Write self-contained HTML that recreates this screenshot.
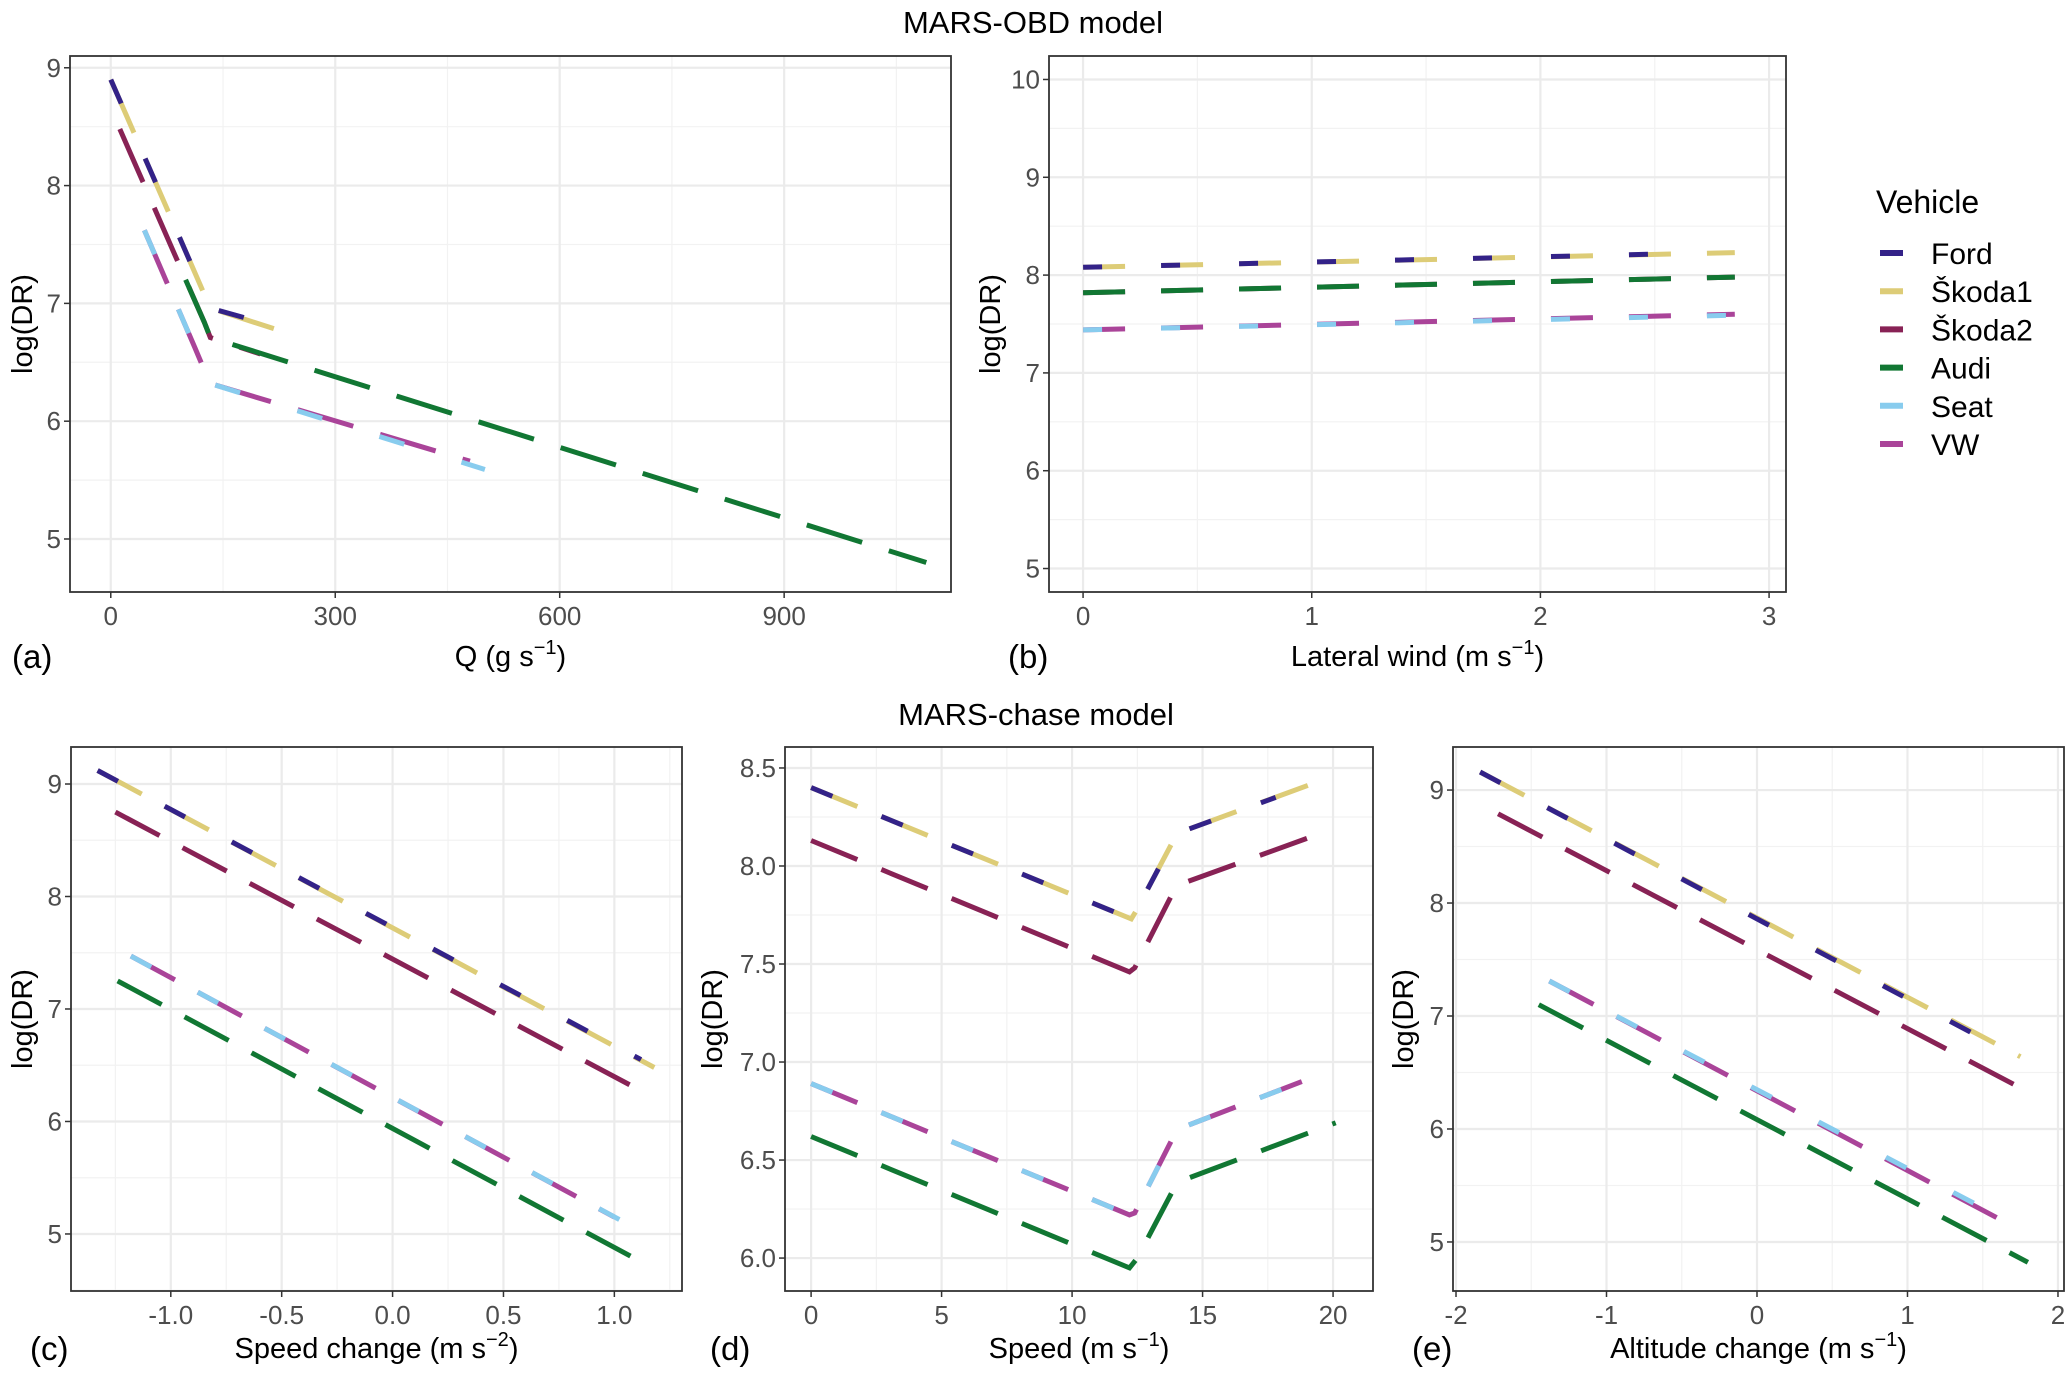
<!DOCTYPE html>
<html><head><meta charset="utf-8"><style>
html,body{margin:0;padding:0;background:#fff;}
svg text{font-family:"Liberation Sans",sans-serif;}
</style></head><body>
<svg id="chart" width="2067" height="1376" viewBox="0 0 2067 1376" xmlns="http://www.w3.org/2000/svg">
<rect width="2067" height="1376" fill="#fff"/>
<text x="1033" y="33" font-size="31" text-anchor="middle" fill="#000">MARS-OBD model</text>
<text x="1036" y="725" font-size="31" text-anchor="middle" fill="#000">MARS-chase model</text>
<g id="legend"></g>
</svg>
<script>
const NS="http://www.w3.org/2000/svg";
const svg=document.getElementById('chart');
const seriesNames=["Škoda1","Ford","Škoda2","Audi","VW","Seat"];
const seriesColors=["#DDCC77","#332288","#882255","#117733","#AA4499","#88CCEE"];
const legendNames=["Ford","Škoda1","Škoda2","Audi","Seat","VW"];
const legendColors=["#332288","#DDCC77","#882255","#117733","#88CCEE","#AA4499"];
const partial=[false,true,false,false,false,true];
// Panel a: Q vs log(DR)
const aFord=[[0,8.90],[133,6.96],[200,6.84]];
const aSkoda1=[[0,8.90],[133,6.96],[240,6.74]];
const aSkoda2=[[12,8.48],[125,6.84],[133,6.71],[200,6.57]];
const aAudi=[[100,7.20],[125,6.84],[133,6.71],[1090,4.80]];
const aSeat=[[45,7.62],[112,6.63],[130,6.36],[133,6.32],[500,5.59]];
const aVW=[[45,7.62],[112,6.63],[130,6.36],[133,6.32],[480,5.66]];
const aXTicks=[0,300,600,900];
const aYTicks=[5,6,7,8,9];
// Panel b: lateral wind
const bFord=[[0,8.08],[2.6,8.22]];
const bSkoda1=[[0,8.08],[2.85,8.23]];
const bSkoda2=[[0,7.82],[2.85,7.98]];
const bAudi=[[0,7.82],[2.85,7.98]];
const bSeat=[[0,7.44],[2.85,7.59]];
const bVW=[[0,7.44],[2.85,7.60]];
const bXTicks=[0,1,2,3];
const bYTicks=[5,6,7,8,9,10];
// Panel c: speed change
const cFord=[[-1.33,9.12],[1.12,6.55]];
const cSkoda1=[[-1.33,9.12],[1.18,6.48]];
const cSkoda2=[[-1.25,8.75],[1.17,6.22]];
const cAudi=[[-1.24,7.25],[1.17,4.70]];
const cSeat=[[-1.18,7.47],[1.03,5.12]];
const cVW=[[-1.18,7.47],[1.0,5.15]];
const cXTicks=[-1.0,-0.5,0.0,0.5,1.0];
const cXLabels=["-1.0","-0.5","0.0","0.5","1.0"];
const cYTicks=[5,6,7,8,9];
// Panel d: speed
const dFord=[[0,8.40],[12.27,7.73],[12.45,7.77],[14.0,8.16],[14.3,8.18],[17.8,8.35]];
const dSkoda1=[[0,8.40],[12.27,7.73],[12.45,7.77],[14.0,8.16],[14.3,8.18],[19.83,8.45]];
const dSkoda2=[[0,8.13],[12.2,7.46],[12.4,7.48],[14.0,7.90],[19.6,8.17]];
const dAudi=[[0,6.62],[12.2,5.95],[12.5,6.0],[14.0,6.38],[14.5,6.41],[20.1,6.69]];
const dSeat=[[0,6.89],[12.2,6.22],[12.4,6.23],[14.0,6.65],[14.3,6.67],[19.2,6.92]];
const dVW=[[0,6.89],[12.2,6.22],[12.4,6.23],[14.0,6.65],[14.3,6.67],[18.8,6.90]];
const dXTicks=[0,5,10,15,20];
const dYTicks=[6.0,6.5,7.0,7.5,8.0,8.5];
const dYLabels=["6.0","6.5","7.0","7.5","8.0","8.5"];
// Panel e: altitude change
const eFord=[[-1.84,9.16],[1.5,6.80]];
const eSkoda1=[[-1.84,9.16],[1.75,6.64]];
const eSkoda2=[[-1.72,8.79],[1.77,6.35]];
const eAudi=[[-1.45,7.10],[1.80,4.82]];
const eSeat=[[-1.38,7.31],[1.69,5.17]];
const eVW=[[-1.38,7.31],[1.6,5.21]];
const eXTicks=[-2,-1,0,1,2];
const eYTicks=[5,6,7,8,9];

function el(tag,attrs,parent){const e=document.createElementNS(NS,tag);for(const k in attrs)e.setAttribute(k,attrs[k]);(parent||svg).appendChild(e);return e;}

function panel(cfg){
  const g=el('g',{});
  
  
  const {x0,x1,y0,y1,xd,yd}=cfg;
  const sx=v=>x0+(v-xd[0])/(xd[1]-xd[0])*(x1-x0);
  const sy=v=>y1-(v-yd[0])/(yd[1]-yd[0])*(y1-y0);
  el('rect',{x:x0,y:y0,width:x1-x0,height:y1-y0,fill:'#fff'},g);
  const xt=cfg.xt, yt=cfg.yt;
  const xs=xt[1]-xt[0], ys=yt[1]-yt[0];
  for(let v=xt[0]-xs/2; v<=xd[1]; v+=xs){ if(v>=xd[0]){const l=el('line',{x1:sx(v),x2:sx(v),y1:y0,y2:y1,stroke:'#F2F2F2','stroke-width':1.2},g);}}
  for(let v=yt[0]-ys/2; v<=yd[1]; v+=ys){ if(v>=yd[0]){const l=el('line',{x1:x0,x2:x1,y1:sy(v),y2:sy(v),stroke:'#F2F2F2','stroke-width':1.2},g);}}
  xt.forEach((v,i)=>{
    const l=el('line',{x1:sx(v),x2:sx(v),y1:y0,y2:y1,stroke:'#EBEBEB','stroke-width':2.2},g);
    
    
    el('line',{x1:sx(v),x2:sx(v),y1:y1,y2:y1+6,stroke:'#333','stroke-width':1.5},g);
    const t=el('text',{x:sx(v),y:y1+33,'font-size':26,'text-anchor':'middle',fill:'#4D4D4D'},g);
    
    
    t.textContent=cfg.xl?cfg.xl[i]:String(v);
  });
  yt.forEach((v,i)=>{
    const l=el('line',{x1:x0,x2:x1,y1:sy(v),y2:sy(v),stroke:'#EBEBEB','stroke-width':2.2},g);
    
    
    el('line',{x1:x0-6,x2:x0,y1:sy(v),y2:sy(v),stroke:'#333','stroke-width':1.5},g);
    const t=el('text',{x:x0-9,y:sy(v)+9,'font-size':26,'text-anchor':'end',fill:'#4D4D4D'},g);
    
    
    t.textContent=cfg.yl?cfg.yl[i]:String(v);
  });
  cfg.series.forEach((pts,i)=>{
    const d=cfg.dash, tot=d[0]+d[1];
    const da=partial[i]?(Math.round(d[0]*0.45)+' '+(tot-Math.round(d[0]*0.45))):(d[0]+' '+d[1]);
    const p=el('polyline',{points:pts.map(q=>sx(q[0]).toFixed(1)+','+sy(q[1]).toFixed(1)).join(' '),fill:'none',stroke:seriesColors[i],'stroke-width':5,'stroke-dasharray':da},g);
    
    
  });
  el('rect',{x:x0,y:y0,width:x1-x0,height:y1-y0,fill:'none',stroke:'#333','stroke-width':1.8},g);
  const yl=el('text',{x:0,y:0,'font-size':29,'text-anchor':'middle',fill:'#000',transform:`translate(${cfg.ytx},${(y0+y1)/2}) rotate(-90)`},g);
  
  
  yl.textContent='log(DR)';
  const xl=el('text',{x:(x0+x1)/2,y:cfg.xty,'font-size':29,'text-anchor':'middle',fill:'#000'},g);
  
  
  xl.innerHTML=cfg.xtitle;
  const pl=el('text',{x:cfg.plx,y:cfg.xty+2,'font-size':33,'text-anchor':'start',fill:'#000'},g);
  
  
  pl.textContent=cfg.label;
}
const sup=(a,b,c)=>`${a}<tspan dy="-12" font-size="20">${b}</tspan><tspan dy="12">${c}</tspan>`;
panel({name:'panel-a',x0:70,x1:951,y0:56,y1:592,xd:[-54.5,1123],yd:[4.55,9.1],xt:aXTicks,yt:aYTicks,series:[aSkoda1,aFord,aSkoda2,aAudi,aVW,aSeat],dash:[58,28],ytx:32,xty:666,xtitle:sup('Q (g s','−1',')'),plx:12,label:'(a)'});
panel({name:'panel-b',x0:1049,x1:1786,y0:56,y1:592,xd:[-0.149,3.074],yd:[4.76,10.24],xt:bXTicks,yt:bYTicks,series:[bSkoda1,bFord,bSkoda2,bAudi,bVW,bSeat],dash:[42,36],ytx:1000,xty:666,xtitle:sup('Lateral wind (m s','−1',')'),plx:1008,label:'(b)'});
panel({name:'panel-c',x0:71,x1:682,y0:747,y1:1291,xd:[-1.45,1.305],yd:[4.493,9.329],xt:cXTicks,xl:cXLabels,yt:cYTicks,series:[cSkoda1,cFord,cSkoda2,cAudi,cVW,cSeat],dash:[50,26],ytx:32,xty:1358,xtitle:sup('Speed change (m s','−2',')'),plx:30,label:'(c)'});
panel({name:'panel-d',x0:785,x1:1373,y0:747,y1:1291,xd:[-1.0,21.53],yd:[5.832,8.607],xt:dXTicks,yt:dYTicks,yl:dYLabels,series:[dSkoda1,dFord,dSkoda2,dAudi,dVW,dSeat],dash:[50,26],ytx:722,xty:1358,xtitle:sup('Speed (m s','−1',')'),plx:710,label:'(d)'});
panel({name:'panel-e',x0:1453,x1:2064,y0:747,y1:1291,xd:[-2.02,2.04],yd:[4.566,9.381],xt:eXTicks,yt:eYTicks,series:[eSkoda1,eFord,eSkoda2,eAudi,eVW,eSeat],dash:[50,26],ytx:1413,xty:1358,xtitle:sup('Altitude change (m s','−1',')'),plx:1412,label:'(e)'});
const lg=document.getElementById('legend');
const lt=el('text',{x:1876,y:213,'font-size':32,fill:'#000'},lg);


lt.textContent='Vehicle';
legendNames.forEach((n,i)=>{
  const y=253+i*38.2;
  const k=el('line',{x1:1880,x2:1903,y1:y,y2:y,stroke:legendColors[i],'stroke-width':6},lg);
  
  
  const t=el('text',{x:1931,y:y+11,'font-size':30,fill:'#000'},lg);
  
  
  t.textContent=n;
});
</script>
</body></html>
